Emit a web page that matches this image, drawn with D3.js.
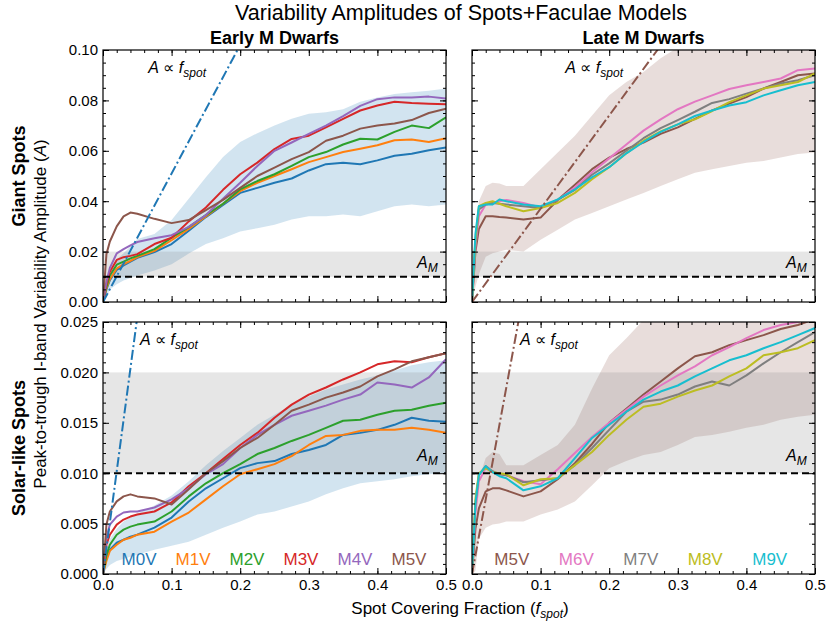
<!DOCTYPE html>
<html>
<head>
<meta charset="utf-8">
<script src="https://cdn.jsdelivr.net/npm/d3@7"></script>
<style>
body { margin: 0; background: #fff; }
text { font-family: "Liberation Sans", Arial, sans-serif; }
</style>
</head>
<body>
<svg id="chart" width="830" height="625"></svg>
<script>
// spot covering fraction grid the curves were read at
const fGrid = [0, 0.005, 0.01, 0.02, 0.03, 0.04, 0.05, 0.075, 0.1, 0.125, 0.15, 0.175, 0.2,
  0.225, 0.25, 0.275, 0.3, 0.325, 0.35, 0.375, 0.4, 0.425, 0.45, 0.475, 0.5];

const earlyTypes = ["M0V", "M1V", "M2V", "M3V", "M4V", "M5V"];
const lateTypes = ["M5V", "M6V", "M7V", "M8V", "M9V"];
const typeColors = {M0V: "#1f77b4", M1V: "#ff7f0e", M2V: "#2ca02c", M3V: "#d62728", M4V: "#9467bd",
  M5V: "#8c564b", M6V: "#e377c2", M7V: "#7f7f7f", M8V: "#bcbd22", M9V: "#17becf"};

// giant spots, early M
const giantM0V = [0, 0.005, 0.0087, 0.0127, 0.0145, 0.016, 0.0175, 0.0198, 0.023, 0.0283, 0.0337, 0.0385, 0.0433, 0.0453, 0.0473, 0.049, 0.0522, 0.0547, 0.0553, 0.0547, 0.0562, 0.058, 0.0588, 0.0602, 0.0613];
const giantM1V = [0, 0.0055, 0.009, 0.0133, 0.015, 0.0163, 0.0178, 0.0203, 0.0245, 0.029, 0.034, 0.039, 0.044, 0.0473, 0.05, 0.0527, 0.0555, 0.0575, 0.0595, 0.0608, 0.0622, 0.0642, 0.0645, 0.0635, 0.065];
const giantM2V = [0, 0.006, 0.0105, 0.0148, 0.016, 0.0173, 0.0183, 0.021, 0.0255, 0.0297, 0.0345, 0.039, 0.0447, 0.048, 0.0507, 0.054, 0.0575, 0.0595, 0.0625, 0.0648, 0.0645, 0.0675, 0.07, 0.069, 0.0733];
const giantM3V = [0, 0.007, 0.012, 0.0167, 0.0178, 0.0183, 0.019, 0.023, 0.0255, 0.032, 0.0375, 0.0445, 0.0507, 0.0553, 0.0607, 0.0647, 0.066, 0.0693, 0.0727, 0.076, 0.078, 0.0795, 0.079, 0.0787, 0.0785];
const giantM4V = [0, 0.008, 0.0135, 0.0193, 0.021, 0.0225, 0.0238, 0.0253, 0.0265, 0.0298, 0.0345, 0.041, 0.0473, 0.054, 0.06, 0.0633, 0.0667, 0.07, 0.0738, 0.0778, 0.0805, 0.0812, 0.0812, 0.0815, 0.0808];
const giantM5V = [0, 0.019, 0.024, 0.03, 0.034, 0.0355, 0.035, 0.033, 0.0313, 0.0325, 0.0365, 0.0405, 0.0453, 0.05, 0.0533, 0.0567, 0.0595, 0.064, 0.066, 0.0688, 0.07, 0.0708, 0.0722, 0.075, 0.0767];
const giantEarlyLo = [0, 0.002, 0.005, 0.007, 0.0085, 0.0095, 0.0105, 0.0125, 0.015, 0.0192, 0.023, 0.0253, 0.028, 0.0293, 0.0307, 0.0327, 0.034, 0.034, 0.0347, 0.034, 0.036, 0.038, 0.0387, 0.038, 0.0387];
const giantEarlyHi = [0, 0.006, 0.011, 0.017, 0.0193, 0.022, 0.025, 0.027, 0.0325, 0.041, 0.0495, 0.0575, 0.0635, 0.067, 0.07, 0.0727, 0.0747, 0.0753, 0.0765, 0.0795, 0.0812, 0.0825, 0.0832, 0.0838, 0.0847];

// giant spots, late M
const giantLateM5V = [0, 0.02, 0.029, 0.034, 0.034, 0.0337, 0.0335, 0.0327, 0.0335, 0.0405, 0.0465, 0.0527, 0.0573, 0.0607, 0.0633, 0.0667, 0.0693, 0.0727, 0.076, 0.0787, 0.0813, 0.0847, 0.0873, 0.09, 0.0907];
const giantM6V = [0, 0.022, 0.034, 0.0387, 0.0393, 0.04, 0.0405, 0.0393, 0.0375, 0.0405, 0.0455, 0.0515, 0.057, 0.0625, 0.068, 0.0725, 0.0765, 0.0795, 0.082, 0.0845, 0.086, 0.0873, 0.0887, 0.092, 0.0927];
const giantM7V = [0, 0.024, 0.0367, 0.0387, 0.0393, 0.039, 0.0387, 0.038, 0.0373, 0.0405, 0.0445, 0.0505, 0.055, 0.06, 0.065, 0.069, 0.0722, 0.0755, 0.079, 0.0805, 0.0827, 0.0847, 0.0867, 0.088, 0.09];
const giantM8V = [0, 0.025, 0.038, 0.0393, 0.04, 0.039, 0.038, 0.036, 0.0373, 0.0393, 0.0433, 0.0487, 0.0535, 0.059, 0.064, 0.0677, 0.0705, 0.0725, 0.0758, 0.0793, 0.082, 0.0847, 0.086, 0.0873, 0.0907];
const giantM9V = [0, 0.027, 0.038, 0.0387, 0.0387, 0.0407, 0.04, 0.0387, 0.038, 0.0407, 0.0447, 0.0495, 0.0535, 0.059, 0.0635, 0.0675, 0.0705, 0.0738, 0.076, 0.078, 0.0793, 0.082, 0.084, 0.086, 0.0873];
const giantLateLo = [0, 0.006, 0.011, 0.018, 0.0193, 0.02, 0.0207, 0.02, 0.0247, 0.0287, 0.0327, 0.0353, 0.038, 0.0407, 0.0433, 0.046, 0.0487, 0.0513, 0.0527, 0.054, 0.0553, 0.056, 0.0573, 0.0587, 0.0593];
const giantLateHi = [0, 0.02, 0.04, 0.046, 0.0473, 0.047, 0.046, 0.046, 0.0527, 0.0593, 0.066, 0.074, 0.082, 0.0873, 0.0913, 0.0967, 0.101, 0.104, 0.105, 0.105, 0.105, 0.105, 0.105, 0.105, 0.105];

// solar-like spots, early M
const solarM0V = [0, 0.0016, 0.0024, 0.0031, 0.0034, 0.0037, 0.0039, 0.0046, 0.0056, 0.0072, 0.0085, 0.0095, 0.0105, 0.011, 0.0112, 0.0119, 0.0123, 0.0128, 0.0138, 0.014, 0.0143, 0.0148, 0.0155, 0.0152, 0.0151];
const solarM1V = [0, 0.0013, 0.0023, 0.0029, 0.0034, 0.0036, 0.0039, 0.0042, 0.0052, 0.0061, 0.0074, 0.0087, 0.0099, 0.0104, 0.0109, 0.0117, 0.0128, 0.0137, 0.0138, 0.0142, 0.0143, 0.0143, 0.0145, 0.0143, 0.014];
const solarM2V = [0, 0.0019, 0.0029, 0.0039, 0.0044, 0.0047, 0.0049, 0.0052, 0.0062, 0.0077, 0.009, 0.01, 0.0109, 0.0119, 0.0125, 0.0132, 0.0138, 0.0145, 0.0152, 0.0153, 0.0158, 0.0162, 0.0163, 0.0167, 0.017];
const solarM3V = [0, 0.0029, 0.0039, 0.0049, 0.0054, 0.0057, 0.0059, 0.0062, 0.0071, 0.0087, 0.01, 0.0114, 0.0128, 0.014, 0.0155, 0.0168, 0.0178, 0.0185, 0.0193, 0.02, 0.0208, 0.0211, 0.021, 0.0215, 0.0219];
const solarM4V = [0, 0.0036, 0.0049, 0.0057, 0.0061, 0.0062, 0.0062, 0.0066, 0.0074, 0.0085, 0.0099, 0.0109, 0.0125, 0.0138, 0.0148, 0.0157, 0.0162, 0.0167, 0.0173, 0.0178, 0.019, 0.0188, 0.0185, 0.0195, 0.0213];
const solarM5V = [0, 0.0049, 0.0062, 0.0072, 0.0077, 0.0079, 0.0077, 0.0075, 0.0069, 0.0084, 0.01, 0.0112, 0.0125, 0.0135, 0.0148, 0.0162, 0.0168, 0.0175, 0.018, 0.0186, 0.0196, 0.0203, 0.0211, 0.0215, 0.0219];
const solarEarlyLo = [0, 0.0005, 0.0009, 0.0013, 0.0015, 0.0017, 0.0019, 0.0024, 0.0028, 0.0032, 0.0039, 0.0046, 0.0052, 0.0059, 0.0062, 0.0067, 0.0072, 0.0079, 0.0085, 0.009, 0.0092, 0.0094, 0.0097, 0.0099, 0.01];
const solarEarlyHi = [0, 0.0025, 0.0035, 0.0045, 0.0052, 0.0056, 0.006, 0.0068, 0.0078, 0.0092, 0.0108, 0.0122, 0.0135, 0.0148, 0.0158, 0.0168, 0.0176, 0.0183, 0.0188, 0.0193, 0.0197, 0.0202, 0.0207, 0.021, 0.0212];

// solar-like spots, late M
const solarLateM5V = [0, 0.0045, 0.0065, 0.0082, 0.0085, 0.0085, 0.0083, 0.0077, 0.0082, 0.0094, 0.011, 0.0129, 0.015, 0.0164, 0.0178, 0.0191, 0.0204, 0.0216, 0.022, 0.0227, 0.0232, 0.0237, 0.0243, 0.0247, 0.0253];
const solarM6V = [0, 0.006, 0.0092, 0.0105, 0.0101, 0.0099, 0.0098, 0.0092, 0.0089, 0.0104, 0.012, 0.0136, 0.015, 0.0163, 0.0176, 0.0187, 0.0197, 0.0206, 0.0217, 0.0225, 0.0234, 0.0242, 0.0247, 0.025, 0.0255];
const solarM7V = [0, 0.007, 0.0098, 0.0107, 0.0102, 0.0099, 0.0098, 0.0091, 0.0093, 0.0095, 0.0108, 0.0125, 0.0143, 0.0161, 0.0171, 0.0173, 0.0178, 0.0186, 0.0191, 0.0187, 0.0197, 0.0209, 0.022, 0.023, 0.024];
const solarM8V = [0, 0.0075, 0.01, 0.0105, 0.0101, 0.01, 0.0099, 0.0088, 0.0094, 0.0095, 0.0108, 0.0121, 0.0138, 0.0153, 0.0166, 0.0169, 0.0176, 0.0182, 0.0187, 0.0196, 0.0204, 0.0217, 0.022, 0.0224, 0.0232];
const solarM9V = [0, 0.007, 0.0098, 0.0107, 0.0101, 0.0097, 0.0095, 0.0083, 0.0087, 0.0095, 0.0115, 0.0135, 0.0148, 0.0161, 0.0173, 0.0181, 0.0187, 0.0196, 0.0204, 0.0212, 0.0217, 0.0224, 0.023, 0.0237, 0.0244];
const solarLateLo = [0, 0.0003, 0.0035, 0.0046, 0.0049, 0.005, 0.0052, 0.0052, 0.0059, 0.0064, 0.0072, 0.0088, 0.0105, 0.0112, 0.0118, 0.0121, 0.0128, 0.0136, 0.0138, 0.0141, 0.0145, 0.0148, 0.0153, 0.0156, 0.0158];
const solarLateHi = [0, 0.005, 0.0095, 0.0115, 0.0121, 0.0119, 0.0108, 0.0108, 0.0118, 0.0128, 0.0148, 0.0184, 0.0217, 0.0234, 0.0252, 0.027, 0.027, 0.027, 0.027, 0.027, 0.027, 0.027, 0.027, 0.027, 0.027];

// observed M dwarf amplitude range and proportional slopes
const ampObs = 0.01, ampBand = [0.01, 0.02];
const slopeEarly = 0.51, slopeLate = 0.37;

const xTicks = [0, 0.1, 0.2, 0.3, 0.4, 0.5];
const yTicksGiant = [0, 0.02, 0.04, 0.06, 0.08, 0.1];
const yTicksSolar = [0, 0.005, 0.01, 0.015, 0.02, 0.025];

const svg = d3.select("#chart");
const W = 343, H = 252;
const x = d3.scaleLinear().domain([0, 0.5]).range([0, W]);

function drawPanel(id, px, py, yMax, yTicks, yFmt, series, lo, hi, envColor, slope, showY, legend, legStart, legStep) {
    var y = d3.scaleLinear().domain([0, yMax]).range([H, 0]);
    var g = svg.append("g").attr("transform", `translate(${px},${py})`);

    g.append("clipPath").attr("id", id).append("rect").attr("width", W).attr("height", H);
    var plot = g.append("g").attr("clip-path", `url(#${id})`);

    // envelope of all models
    var area = d3.area().x((d, i) => x(fGrid[i])).y0((d, i) => y(lo[i])).y1(d => y(d));
    plot.append("path").datum(hi).attr("d", area).attr("fill", envColor).attr("fill-opacity", 0.2);

    // observed range
    plot.append("rect")
        .attr("x", 0).attr("width", W)
        .attr("y", y(ampBand[1])).attr("height", y(ampBand[0]) - y(ampBand[1]))
        .attr("fill", "#808080").attr("fill-opacity", 0.2);

    var line = d3.line().x((d, i) => x(fGrid[i])).y(d => y(d));
    series.forEach(s => {
        plot.append("path").datum(s.values).attr("d", line)
            .attr("fill", "none").attr("stroke", typeColors[s.name])
            .attr("stroke-width", 2).attr("stroke-linejoin", "round");
    });

    // A proportional to f_spot
    plot.append("line")
        .attr("x1", x(0)).attr("y1", y(0)).attr("x2", x(0.5)).attr("y2", y(slope * 0.5))
        .attr("stroke", envColor).attr("stroke-width", 2).attr("stroke-dasharray", "10,3,2,3");

    plot.append("line")
        .attr("x1", 0).attr("x2", W).attr("y1", y(ampObs)).attr("y2", y(ampObs))
        .attr("stroke", "#000").attr("stroke-width", 2).attr("stroke-dasharray", "7,4");

    // axes, ticks pointing inward on every side
    var yMinor = d3.range(0, yMax + 1e-9, yTicks[1] / (yMax > 0.05 ? 4 : 5));
    var xMinor = d3.range(0, 0.5001, 0.02);
    var fmtX = d3.format(".1f");
    var axes = [
        [d3.axisLeft(y).tickValues(yTicks).tickFormat(showY ? d3.format(yFmt) : ""), 0, 0],
        [d3.axisRight(y).tickValues(yTicks).tickFormat(""), W, 0],
        [d3.axisBottom(x).tickValues(xTicks).tickFormat(py > 200 ? fmtX : ""), 0, H],
        [d3.axisTop(x).tickValues(xTicks).tickFormat(""), 0, 0]
    ];
    axes.forEach(a => {
        var ax = g.append("g").attr("transform", `translate(${a[1]},${a[2]})`)
            .call(a[0].tickSizeInner(-6).tickSizeOuter(0).tickPadding(5));
        ax.select(".domain").remove();
        ax.selectAll("text").attr("font-size", 15).attr("fill", "#000")
            .attr("font-family", "Liberation Sans, Arial, sans-serif");
    });
    [[d3.axisLeft(y).tickValues(yMinor), 0, 0], [d3.axisRight(y).tickValues(yMinor), W, 0],
     [d3.axisBottom(x).tickValues(xMinor), 0, H], [d3.axisTop(x).tickValues(xMinor), 0, 0]].forEach(a => {
        var ax = g.append("g").attr("transform", `translate(${a[1]},${a[2]})`)
            .call(a[0].tickSize(-3).tickFormat(""));
        ax.select(".domain").remove();
    });

    g.append("rect").attr("width", W).attr("height", H)
        .attr("fill", "none").attr("stroke", "#000").attr("stroke-width", 1.2);

    // annotations
    var ann = g.append("text").attr("font-size", 16);
    ann.append("tspan").attr("font-style", "italic").text("A");
    ann.append("tspan").text(" \u221d ");
    ann.append("tspan").attr("font-style", "italic").text("f");
    ann.append("tspan").attr("font-style", "italic").attr("font-size", 12).attr("dy", 4).text("spot");
    ann.attr("x", x(slope > 0.4 ? (yMax > 0.05 ? 0.066 : 0.054) : (yMax > 0.05 ? 0.136 : 0.07)))
        .attr("y", y(yMax * 0.9) - 2);

    var am = g.append("text").attr("font-size", 16).attr("text-anchor", "end")
        .attr("x", x(0.488)).attr("y", y(ampObs) - (yMax > 0.05 ? 9 : 12));
    am.append("tspan").attr("font-style", "italic").text("A");
    am.append("tspan").attr("font-style", "italic").attr("font-size", 12).attr("dy", 4).text("M");

    if (legend) {
        g.selectAll(".leg").data(legend).enter().append("text")
            .attr("x", (d, i) => x(legStart + i * legStep))
            .attr("y", H - 9)
            .attr("text-anchor", "middle").attr("font-size", 17)
            .attr("fill", d => typeColors[d])
            .text(d => d);
    }
}

const gx = [103, 472], gy = [50, 322];

drawPanel("c1", gx[0], gy[0], 0.1, yTicksGiant, ".2f",
    [giantM0V, giantM1V, giantM2V, giantM3V, giantM4V, giantM5V].map((v, i) => ({name: earlyTypes[i], values: v})),
    giantEarlyLo, giantEarlyHi, "#1f77b4", slopeEarly, true, null);
drawPanel("c2", gx[1], gy[0], 0.1, yTicksGiant, ".2f",
    [giantLateM5V, giantM6V, giantM7V, giantM8V, giantM9V].map((v, i) => ({name: lateTypes[i], values: v})),
    giantLateLo, giantLateHi, "#8c564b", slopeLate, false, null);
drawPanel("c3", gx[0], gy[1], 0.025, yTicksSolar, ".3f",
    [solarM0V, solarM1V, solarM2V, solarM3V, solarM4V, solarM5V].map((v, i) => ({name: earlyTypes[i], values: v})),
    solarEarlyLo, solarEarlyHi, "#1f77b4", slopeEarly, true, earlyTypes, 0.0525, 0.0787);
drawPanel("c4", gx[1], gy[1], 0.025, yTicksSolar, ".3f",
    [solarLateM5V, solarM6V, solarM7V, solarM8V, solarM9V].map((v, i) => ({name: lateTypes[i], values: v})),
    solarLateLo, solarLateHi, "#8c564b", slopeLate, false, lateTypes, 0.058, 0.094);

// titles and labels
svg.append("text").attr("x", 461).attr("y", 20).attr("text-anchor", "middle")
    .attr("font-size", 21.5).text("Variability Amplitudes of Spots+Faculae Models");
svg.append("text").attr("x", gx[0] + W / 2).attr("y", 44).attr("text-anchor", "middle")
    .attr("font-size", 18).attr("font-weight", "bold").text("Early M Dwarfs");
svg.append("text").attr("x", gx[1] + W / 2).attr("y", 44).attr("text-anchor", "middle")
    .attr("font-size", 18).attr("font-weight", "bold").text("Late M Dwarfs");

svg.append("text").attr("transform", "translate(25,176) rotate(-90)").attr("text-anchor", "middle")
    .attr("font-size", 18).attr("font-weight", "bold").text("Giant Spots");
svg.append("text").attr("transform", "translate(25,448) rotate(-90)").attr("text-anchor", "middle")
    .attr("font-size", 18).attr("font-weight", "bold").text("Solar-like Spots");

var yl = svg.append("text").attr("transform", "translate(46,314) rotate(-90)").attr("text-anchor", "middle")
    .attr("font-size", 17);
yl.append("tspan").text("Peak-to-trough I-band Variability Amplitude  (");
yl.append("tspan").attr("font-style", "italic").text("A");
yl.append("tspan").text(")");

var xl = svg.append("text").attr("x", 460).attr("y", 614).attr("text-anchor", "middle").attr("font-size", 17);
xl.append("tspan").text("Spot Covering Fraction  (");
xl.append("tspan").attr("font-style", "italic").text("f");
xl.append("tspan").attr("font-style", "italic").attr("font-size", 12).attr("dy", 4).text("spot");
xl.append("tspan").attr("dy", -4).text(")");
</script>
</body>
</html>
